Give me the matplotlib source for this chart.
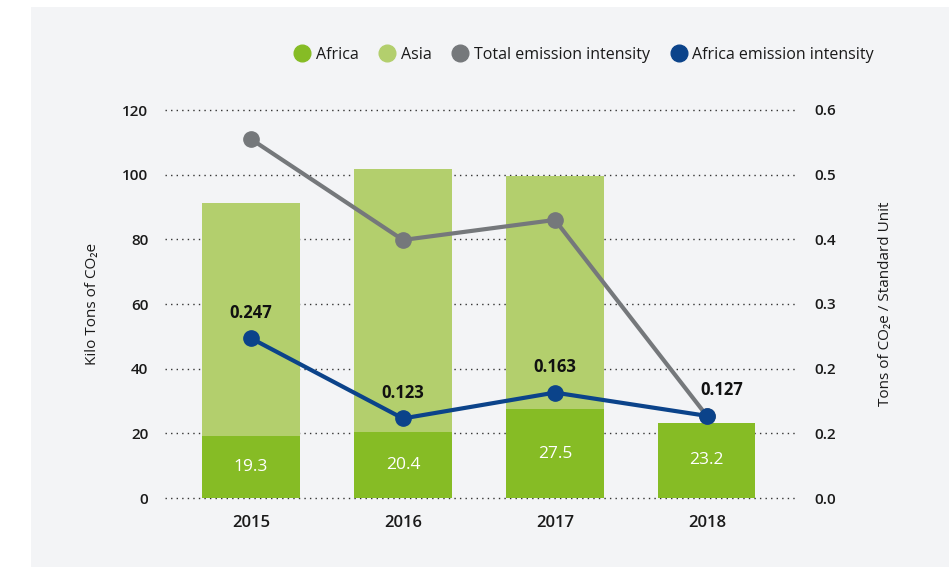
import matplotlib.pyplot as plt
from matplotlib.lines import Line2D
from matplotlib.patches import Rectangle

plt.rcParams['font.family'] = ['Open Sans', 'DejaVu Sans']

years = ['2015', '2016', '2017', '2018']
africa = [19.3, 20.4, 27.5, 23.2]
asia = [71.9, 81.4, 72.1, 0.0]
total_intensity = [0.555, 0.399, 0.430, 0.127]
africa_intensity = [0.247, 0.123, 0.163, 0.127]
left_ticks = [0, 20, 40, 60, 80, 100, 120]
right_ticks = [0.0, 0.1, 0.2, 0.3, 0.4, 0.5, 0.6]
right_tick_labels = ['0.0', '0.2', '0.2', '0.3', '0.4', '0.5', '0.6']

c_africa = '#86bc25'
c_asia = '#b3cf6d'
c_total = '#75787b'
c_blue = '#0b438a'
bg = '#f3f4f6'
txt = '#1a1a1a'

fig = plt.figure(figsize=(9.49, 5.67), dpi=100)
fig.patch.set_facecolor('white')
fig.patches.append(Rectangle((31 / 949, 0), 1, 1 - 7 / 567, transform=fig.transFigure,
                             facecolor=bg, edgecolor='none', zorder=-10))

ax = fig.add_axes([165 / 949, 1 - 498 / 567, 630 / 949, 388 / 567])
ax.set_facecolor('none')
x = range(len(years))
ax.bar(x, africa, width=0.64, color=c_africa, zorder=2)
ax.bar(x, asia, width=0.64, bottom=africa, color=c_asia, zorder=2)
for i, v in enumerate(africa):
    ax.text(i, v / 2, f'{v}', ha='center', va='center', color='white', fontsize=12.5,
            fontweight='medium', zorder=3)

ax.set_xlim(-0.566, 3.58)
ax.set_ylim(0, 120)
ax.set_yticks(left_ticks)
ax.set_xticks(list(x))
ax.set_xticklabels(years, fontsize=12, fontweight='semibold', color=txt)
ax.grid(axis='y', linestyle=(0, (1, 3)), color='#333333', linewidth=1, zorder=0)
for gl in ax.get_ygridlines():
    gl.set_clip_on(False)
for s in ax.spines.values():
    s.set_visible(False)
ax.tick_params(axis='x', length=0, pad=12)
ax.tick_params(axis='y', length=0, pad=12)
for lab in ax.get_yticklabels():
    lab.set_fontsize(11)
    lab.set_fontweight('semibold')
    lab.set_color(txt)
ax.set_ylabel('Kilo Tons of CO₂e', fontsize=11, color=txt, labelpad=16)

ax2 = ax.twinx()
ax2.set_ylim(0, 0.6)
ax2.set_yticks(right_ticks)
ax2.set_yticklabels(right_tick_labels, fontsize=11, fontweight='semibold', color=txt)
ax2.tick_params(axis='y', length=0, pad=14)
for s in ax2.spines.values():
    s.set_visible(False)
ax2.plot(x, total_intensity, color=c_total, linewidth=3, marker='o', markersize=11,
         clip_on=False, zorder=4)
ax2.plot(x, africa_intensity, color=c_blue, linewidth=3, marker='o', markersize=11,
         clip_on=False, zorder=5)
for i, v in enumerate(africa_intensity):
    dx = 11 if i == 3 else 0
    ax2.annotate(f'{v}', (i, v), xytext=(dx, 12), textcoords='offset points',
                 ha='center', va='bottom', fontsize=12, fontweight='bold', color='#111111')
ax2.set_ylabel('Tons of CO₂e / Standard Unit', fontsize=11, color=txt, labelpad=30)

handles = [
    Line2D([], [], linestyle='none', marker='o', markersize=12, color=c_africa),
    Line2D([], [], linestyle='none', marker='o', markersize=12, color=c_asia),
    Line2D([], [], linestyle='none', marker='o', markersize=12, color=c_total),
    Line2D([], [], linestyle='none', marker='o', markersize=12, color=c_blue),
]
labels = ['Africa', 'Asia', 'Total emission intensity', 'Africa emission intensity']
leg = fig.legend(handles, labels, loc='center right', bbox_to_anchor=(874 / 949, 1 - 55 / 567),
                 ncol=4, frameon=False, fontsize=11.5, handlelength=0.8, handletextpad=0.45,
                 columnspacing=1.4, borderaxespad=0, borderpad=0)
for t in leg.get_texts():
    t.set_color(txt)

fig.savefig('out.png', dpi=100)
